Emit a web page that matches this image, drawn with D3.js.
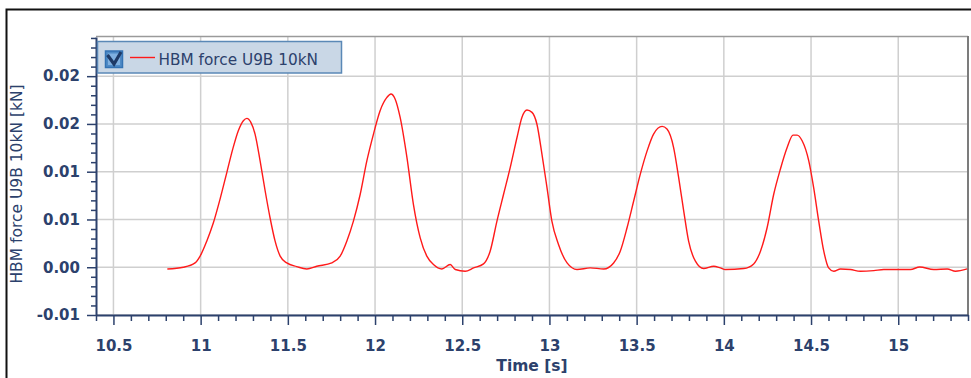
<!DOCTYPE html>
<html>
<head>
<meta charset="utf-8">
<script src="https://cdn.jsdelivr.net/npm/d3@7/dist/d3.min.js"></script>
<style>
  html, body { margin: 0; padding: 0; background: #ffffff; }
  svg { display: block; }
  svg text { font-family: "DejaVu Sans", Verdana, sans-serif; }
</style>
</head>
<body>
<svg id="chart" width="971" height="378"></svg>
<script>
// Force channel samples: time in seconds, force in kN
const timeValues = [
  10.809, 10.901, 10.968, 10.997, 11.035, 11.073, 11.111, 11.150, 11.184, 11.216,
  11.245, 11.265, 11.288, 11.312, 11.341, 11.370, 11.398, 11.427, 11.456, 11.494,
  11.551, 11.609, 11.666, 11.752, 11.800, 11.838, 11.876, 11.915, 11.953, 11.991,
  12.029, 12.068, 12.091, 12.115, 12.144, 12.183, 12.220, 12.259, 12.297, 12.335,
  12.383, 12.431, 12.460, 12.517, 12.565, 12.622, 12.660, 12.699, 12.737, 12.775,
  12.814, 12.842, 12.871, 12.900, 12.928, 12.957, 12.986, 13.014, 13.052, 13.101,
  13.158, 13.234, 13.311, 13.368, 13.406, 13.445, 13.483, 13.521, 13.560, 13.597,
  13.646, 13.674, 13.712, 13.741, 13.770, 13.798, 13.837, 13.884, 13.942, 13.980,
  14.009, 14.114, 14.171, 14.210, 14.248, 14.286, 14.324, 14.363, 14.397, 14.420,
  14.449, 14.487, 14.515, 14.544, 14.573, 14.601, 14.630, 14.669, 14.726, 14.783,
  14.860, 14.917, 15.013, 15.070, 15.123, 15.204, 15.281, 15.328, 15.395
];
const forceValues = [
  -0.00018, 0.00000, 0.00045, 0.00116, 0.00273, 0.00465, 0.00711, 0.00991, 0.01236, 0.01429,
  0.01534, 0.01558, 0.01516, 0.01394, 0.01113, 0.00798, 0.00518, 0.00273, 0.00116, 0.00045,
  0.00007, -0.00018, 0.00010, 0.00045, 0.00116, 0.00273, 0.00483, 0.00764, 0.01113, 0.01394,
  0.01639, 0.01778, 0.01814, 0.01762, 0.01568, 0.01148, 0.00659, 0.00308, 0.00116, 0.00028,
  -0.00018, 0.00028, -0.00024, -0.00042, -0.00007, 0.00035, 0.00168, 0.00483, 0.00764, 0.01043,
  0.01358, 0.01568, 0.01646, 0.01621, 0.01499, 0.01184, 0.00833, 0.00483, 0.00238, 0.00045,
  -0.00024, -0.00007, -0.00018, 0.00045, 0.00168, 0.00413, 0.00693, 0.00974, 0.01218, 0.01394,
  0.01474, 0.01446, 0.01253, 0.00938, 0.00588, 0.00273, 0.00063, -0.00014, 0.00010, -0.00007,
  -0.00024, -0.00014, 0.00035, 0.00168, 0.00413, 0.00764, 0.01026, 0.01253, 0.01383, 0.01383,
  0.01324, 0.01113, 0.00833, 0.00483, 0.00168, -0.00007, -0.00042, -0.00018, -0.00024, -0.00042,
  -0.00035, -0.00024, -0.00024, -0.00024, 0.00003, -0.00024, -0.00018, -0.00042, -0.00018
];

// Axis ticks and their printed labels
const xTickValues = [10.5, 11, 11.5, 12, 12.5, 13, 13.5, 14, 14.5, 15];
const xTickLabels = ["10.5", "11", "11.5", "12", "12.5", "13", "13.5", "14", "14.5", "15"];
const yTickValues = [-0.005, 0, 0.005, 0.01, 0.015, 0.02];
const yTickLabels = ["-0.01", "0.00", "0.01", "0.01", "0.02", "0.02"];
const xDomain = [10.4, 15.4];
const yDomain = [-0.005, 0.0241];

const seriesName = "HBM force U9B 10kN";
const xTitle = "Time [s]";
const yTitle = "HBM force U9B 10kN [kN]";

const navy = "#2c416c";
const fontStack = "'DejaVu Sans', Verdana, sans-serif";
const svg = d3.select("#chart");

const plot = { left: 96, right: 968, top: 37, bottom: 315 };

const x = d3.scaleLinear().domain(xDomain).range([plot.left, plot.right]);
const y = d3.scaleLinear().domain(yDomain).range([plot.bottom, plot.top]);

// Outer frame (runs off the right and bottom edges)
svg.append("path")
  .attr("d", "M6.5,378 L6.5,9.5 L971,9.5")
  .attr("fill", "none")
  .attr("stroke", "#111")
  .attr("stroke-width", 2);

// Grid
const grid = svg.append("g");
grid.selectAll(".vg").data(xTickValues).join("line")
  .attr("x1", d => x(d)).attr("x2", d => x(d))
  .attr("y1", plot.top).attr("y2", plot.bottom)
  .attr("stroke", "#cfcfcf").attr("stroke-width", 1.5);
grid.selectAll(".hg").data(yTickValues).join("line")
  .attr("x1", plot.left).attr("x2", plot.right)
  .attr("y1", d => y(d)).attr("y2", d => y(d))
  .attr("stroke", "#cfcfcf").attr("stroke-width", 1.5);

// Plot frame: top and right
svg.append("line")
  .attr("x1", plot.left).attr("x2", plot.right)
  .attr("y1", plot.top - 0.5).attr("y2", plot.top - 0.5)
  .attr("stroke", "#9a9a9a").attr("stroke-width", 1.5);
svg.append("line")
  .attr("x1", plot.right).attr("x2", plot.right)
  .attr("y1", plot.top - 1).attr("y2", plot.bottom)
  .attr("stroke", "#7c7c7c").attr("stroke-width", 2);

// Series line, clipped to the plot
svg.append("clipPath").attr("id", "clip")
  .append("rect")
  .attr("x", plot.left).attr("y", plot.top)
  .attr("width", plot.right - plot.left).attr("height", plot.bottom - plot.top);

const points = timeValues.map((t, i) => [t, forceValues[i]]);
const line = d3.line()
  .x(d => x(d[0]))
  .y(d => y(d[1]))
  .curve(d3.curveMonotoneX);

svg.append("path")
  .datum(points)
  .attr("clip-path", "url(#clip)")
  .attr("fill", "none")
  .attr("stroke", "#ff1a1a")
  .attr("stroke-width", 1.4)
  .attr("d", line);

// Minor ticks
const xMinor = d3.range(0, 51).map(i => +(xDomain[0] + i * 0.1).toFixed(2))
  .filter(v => !xTickValues.some(t => Math.abs(t - v) < 1e-9));
const yMinor = d3.range(0, 30).map(i => +(yDomain[0] + i * 0.001).toFixed(4))
  .filter(v => !yTickValues.some(t => Math.abs(t - v) < 1e-9));

function styleAxis(g) {
  g.attr("font-family", null).attr("font-size", null);
  g.select(".domain").attr("stroke", navy).attr("stroke-width", 2);
  g.selectAll(".tick line").attr("stroke", navy).attr("stroke-width", 1.5);
  g.selectAll(".tick text")
    .attr("fill", navy)
    .style("font-family", fontStack)
    .style("font-size", "15px")
    .style("font-weight", "bold");
}

svg.append("g")
  .attr("transform", `translate(0,${plot.bottom})`)
  .call(d3.axisBottom(x).tickValues(xMinor).tickSize(6).tickFormat(""))
  .call(g => { g.select(".domain").remove(); g.selectAll(".tick line").attr("stroke", navy).attr("stroke-width", 1.5); });

svg.append("g")
  .attr("transform", `translate(${plot.left},0)`)
  .call(d3.axisLeft(y).tickValues(yMinor).tickSize(5).tickFormat(""))
  .call(g => { g.select(".domain").remove(); g.selectAll(".tick line").attr("stroke", navy).attr("stroke-width", 1.5); });

svg.append("g")
  .attr("transform", `translate(0,${plot.bottom})`)
  .call(d3.axisBottom(x).tickValues(xTickValues).tickSizeInner(10).tickSizeOuter(0)
    .tickPadding(15).tickFormat((d, i) => xTickLabels[i]))
  .call(styleAxis);

svg.append("g")
  .attr("transform", `translate(${plot.left},0)`)
  .call(d3.axisLeft(y).tickValues(yTickValues).tickSizeInner(9).tickSizeOuter(0)
    .tickPadding(7).tickFormat((d, i) => yTickLabels[i]))
  .call(styleAxis);

// Axis titles
svg.append("text")
  .attr("x", (plot.left + plot.right) / 2)
  .attr("y", 371)
  .attr("text-anchor", "middle")
  .attr("fill", navy)
  .style("font-family", fontStack)
  .style("font-size", "15.5px")
  .style("font-weight", "bold")
  .text(xTitle);

svg.append("text")
  .attr("transform", "translate(21.5,184) rotate(-90)")
  .attr("text-anchor", "middle")
  .attr("fill", navy)
  .style("font-family", fontStack)
  .style("font-size", "15.5px")
  .text(yTitle);

// Legend
const legend = svg.append("g");
legend.append("rect")
  .attr("x", 97.5).attr("y", 41.5)
  .attr("width", 244).attr("height", 31.5)
  .attr("fill", "#c9d7e6")
  .attr("stroke", "#5a88b6")
  .attr("stroke-width", 1.5);
legend.append("rect")
  .attr("x", 105.5).attr("y", 51)
  .attr("width", 17).attr("height", 16.5)
  .attr("fill", "#4f8bc6")
  .attr("stroke", "#3473b4")
  .attr("stroke-width", 1.5);
legend.append("rect")
  .attr("x", 108).attr("y", 53.5)
  .attr("width", 12).attr("height", 11.5)
  .attr("fill", "#7fb0e0");
legend.append("path")
  .attr("d", "M107.5,55 L114,64 L121,52")
  .attr("fill", "none")
  .attr("stroke", "#1e3a66")
  .attr("stroke-width", 3.2)
  .attr("stroke-linejoin", "miter");
legend.append("line")
  .attr("x1", 130).attr("x2", 155)
  .attr("y1", 57.5).attr("y2", 57.5)
  .attr("stroke", "#ff1a1a")
  .attr("stroke-width", 1.4);
legend.append("text")
  .attr("x", 158.5).attr("y", 64.5)
  .attr("fill", navy)
  .style("font-family", fontStack)
  .style("font-size", "15.3px")
  .text(seriesName);
</script>
</body>
</html>
